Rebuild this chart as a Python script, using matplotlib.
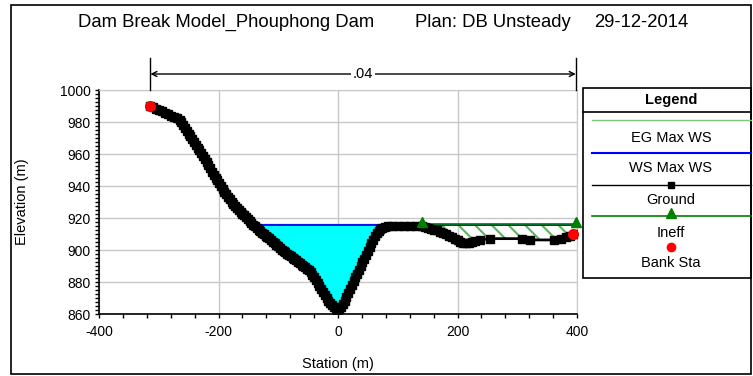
import numpy as np
import matplotlib
matplotlib.use('Agg')
import matplotlib.pyplot as plt
from matplotlib.patches import Rectangle
from matplotlib.ticker import MultipleLocator

plt.rcParams['font.family'] = ['Liberation Sans', 'DejaVu Sans']
plt.rcParams['hatch.linewidth'] = 1.5
plt.rcParams['axes.unicode_minus'] = False

# ---------------- data ----------------
title_parts = ["Dam Break Model_Phouphong Dam", "Plan: DB Unsteady", "29-12-2014"]

station = [-314, -309, -304, -299, -294, -289, -284, -279, -274, -269, -265, -262,
           -259, -256, -253, -250, -247, -244, -241, -238, -235, -232, -229, -226,
           -223, -220, -217, -214, -211, -208, -205, -202, -199, -196, -193, -190,
           -187, -184, -181, -178, -175, -172, -169, -166, -163, -160, -157, -154,
           -151, -148, -145, -142, -139, -136, -133, -130, -127, -124, -121, -118,
           -115, -112, -109, -106, -103, -100, -97, -94, -91, -88, -85, -82,
           -79, -76, -73, -70, -67, -64, -61, -58, -55, -52, -49, -46,
           -43, -40, -37, -34, -31, -28, -25, -22, -19, -16, -13, -10,
           -7, -4, -1, 2, 5, 8, 11, 14, 17, 20, 23, 26,
           29, 32, 35, 38, 41, 44, 47, 50, 53, 56, 59, 62,
           65, 68, 71, 74, 78, 83, 90, 100, 110, 120, 130, 140,
           145, 150, 155, 160, 165, 170, 175, 180, 185, 190, 195, 200,
           205, 210, 215, 220, 225, 230, 238, 254, 308, 321, 361, 374,
           382, 389, 396]
elevation = [990, 989.2, 988.4, 987.6, 986.8, 985.8, 984.9, 984, 983.2, 982.4, 981.5, 979.8,
             978, 976.2, 974.5, 972.8, 971, 969.3, 967.5, 965.8, 964, 962.2, 960.4, 958.6,
             956.8, 955, 953, 951, 949, 947, 945.3, 943.6, 941.8, 940, 938.2, 936.4,
             934.8, 933.3, 931.8, 930.3, 929, 927.7, 926.4, 925.2, 924, 922.8, 921.6, 920.4,
             919.2, 918, 916.8, 915.8, 914.8, 913.8, 912.8, 911.8, 910.8, 909.9, 909, 908.1,
             907.2, 906.2, 905.2, 904.2, 903.2, 902.2, 901.2, 900.3, 899.4, 898.5, 897.7, 896.9,
             896.1, 895.2, 894.4, 893.5, 892.6, 891.7, 890.8, 890, 889.1, 888.2, 887.2, 886,
             884.6, 883, 881.2, 879.4, 877.5, 875.5, 873.6, 871.8, 870, 868.4, 867, 865.7,
             864.5, 863.5, 862.8, 863, 864.5, 866.3, 868.3, 870.5, 873, 875.5, 878, 880.5,
             883, 885.3, 887.5, 889.8, 892.2, 894.6, 897, 899.4, 901.8, 904.2, 906.5, 908.6,
             910.5, 912, 913.2, 914, 914.5, 914.8, 915, 915.1, 915.1, 915, 914.9, 914.7,
             914.4, 914, 913.4, 912.8, 912.2, 911.5, 910.7, 909.8, 908.9, 907.9, 906.9, 906,
             905.1, 904.4, 904.1, 904.2, 904.8, 905.5, 906.3, 907.1, 907.1, 906.3, 906.3, 907,
             908, 908.8, 910]

ws_elev = 915.8
eg_elev = 916.2
ws_extent = [-142, 398]
ineff_sta = [140, 398]
ineff_elev = 916.4
bank_sta = [-314, 394]
bank_elev = [990, 910]
n_sta = [-314, 398]
n_label = ".04"
legend_labels = ["EG Max WS", "WS Max WS", "Ground", "Ineff", "Bank Sta"]

# ---------------- figure ----------------
W, H = 753, 376
fig = plt.figure(figsize=(W / 100, H / 100), dpi=100)
ax = fig.add_axes([99 / W, 1 - 314 / H, (577 - 99) / W, (314 - 90) / H])

st = np.array(station, dtype=float)
el = np.array(elevation, dtype=float)

ax.set_xlim(-400, 400)
ax.set_ylim(860, 1000)

# water fill (effective area)
ax.fill_between(st, el, ws_elev, where=(st >= ws_extent[0]) & (st <= ineff_sta[0]) & (el < ws_elev),
                interpolate=True, facecolor='#00ffff', edgecolor='none', zorder=2)
# ineffective hatched area
ax.fill_between(st, el, ineff_elev, where=(st >= ineff_sta[0]) & (st <= ineff_sta[1]),
                interpolate=True, facecolor='none', edgecolor='#5cb45c', hatch='\\\\',
                linewidth=0, zorder=2)

# EG, WS lines
ax.plot(ws_extent, [eg_elev, eg_elev], color='#7cc47c', lw=1.0, zorder=3)
ax.plot(ws_extent, [ws_elev, ws_elev], color='#0000ff', lw=1.3, zorder=3)
# Ineff
ax.plot(ineff_sta, [ineff_elev, ineff_elev], color='#008000', lw=1.2, zorder=3)
ax.plot(ineff_sta, [ineff_elev + 0.8, ineff_elev + 0.8], ls='none', marker='^', ms=7,
        color='#008000', zorder=6, clip_on=False)
# Ground
ax.plot(st, el, color='black', lw=2.0, marker='s', ms=5.8, zorder=5)
# Bank stations
ax.plot(bank_sta, bank_elev, ls='none', marker='o', ms=7, color='#ff0000', zorder=7, clip_on=False)

# Manning n bracket
for s in n_sta:
    ax.plot([s, s], [1000, 1020], color='black', lw=1.0, clip_on=False, zorder=4)
ax.annotate('', xy=(n_sta[0], 1010), xytext=(n_sta[1], 1010),
            arrowprops=dict(arrowstyle='<->', lw=1.0, color='black', shrinkA=0, shrinkB=0,
                            mutation_scale=9),
            annotation_clip=False)
ax.text((n_sta[0] + n_sta[1]) / 2, 1010, n_label, ha='center', va='center', fontsize=10.5,
        bbox=dict(facecolor='white', edgecolor='none', pad=1.5), clip_on=False)

# axes styling
ax.xaxis.set_major_locator(MultipleLocator(200))
ax.xaxis.set_minor_locator(MultipleLocator(40))
ax.yaxis.set_major_locator(MultipleLocator(20))
ax.yaxis.set_minor_locator(MultipleLocator(2.5))
ax.tick_params(which='both', direction='out', length=3, width=1, labelsize=10, color='black')
ax.tick_params(axis='x', pad=5)
ax.tick_params(axis='y', pad=3)
ax.grid(which='major', color='#c8c8c8', lw=1.0, zorder=0)
ax.set_axisbelow(True)
for side in ['top', 'right']:
    ax.spines[side].set_color('#c8c8c8')
for side in ['left', 'bottom']:
    ax.spines[side].set_color('black')
    ax.spines[side].set_linewidth(1.2)

ax.set_xlabel('Station (m)', fontsize=10.5, va='center')
ax.xaxis.set_label_coords(0.5, -(364 - 314) / 224)
ax.set_ylabel('Elevation (m)', fontsize=10.5, va='center')
ax.yaxis.set_label_coords((22 - 99) / 478, 0.5)

# ---------------- overlay (pixel coords) ----------------
ov = fig.add_axes([0, 0, 1, 1])
ov.set_xlim(0, W)
ov.set_ylim(H, 0)
ov.axis('off')
ov.patch.set_visible(False)

ov.add_patch(Rectangle((10.7, 4.7), 751 - 10.7, 374.3 - 4.7, fill=False, edgecolor='black', lw=1.2))

for txt, x0 in zip(title_parts, [78, 415, 594]):
    ov.text(x0, 22.7, txt, ha='left', va='center', fontsize=13.3)

# legend
ov.add_patch(Rectangle((583, 88), 751 - 583, 278 - 88, fill=False, edgecolor='black', lw=1.2))
ov.plot([583, 751], [112, 112], color='black', lw=1.2)
lc = 671
ov.text(lc, 100, 'Legend', ha='center', va='center', fontsize=10.5, fontweight='bold')
ov.plot([592, 751], [120, 120], color='#7cc47c', lw=1.0)
ov.text(lc, 137.7, legend_labels[0], ha='center', va='center', fontsize=10.5)
ov.plot([592, 751], [153, 153], color='#0000ff', lw=1.5)
ov.text(lc, 168.5, legend_labels[1], ha='center', va='center', fontsize=10.5)
ov.plot([592, 751], [185, 185], color='black', lw=1.0)
ov.plot([lc], [185], marker='s', ms=5, color='black')
ov.text(lc, 199.5, legend_labels[2], ha='center', va='center', fontsize=10.5)
ov.plot([592, 751], [216, 216], color='#008000', lw=1.2)
ov.plot([lc], [213], marker='^', ms=7, color='#008000')
ov.text(lc, 232.7, legend_labels[3], ha='center', va='center', fontsize=10.5)
ov.plot([lc], [246.7], marker='o', ms=6, color='#ff0000')
ov.text(lc, 262.7, legend_labels[4], ha='center', va='center', fontsize=10.5)

fig.savefig('out.png', dpi=100)
